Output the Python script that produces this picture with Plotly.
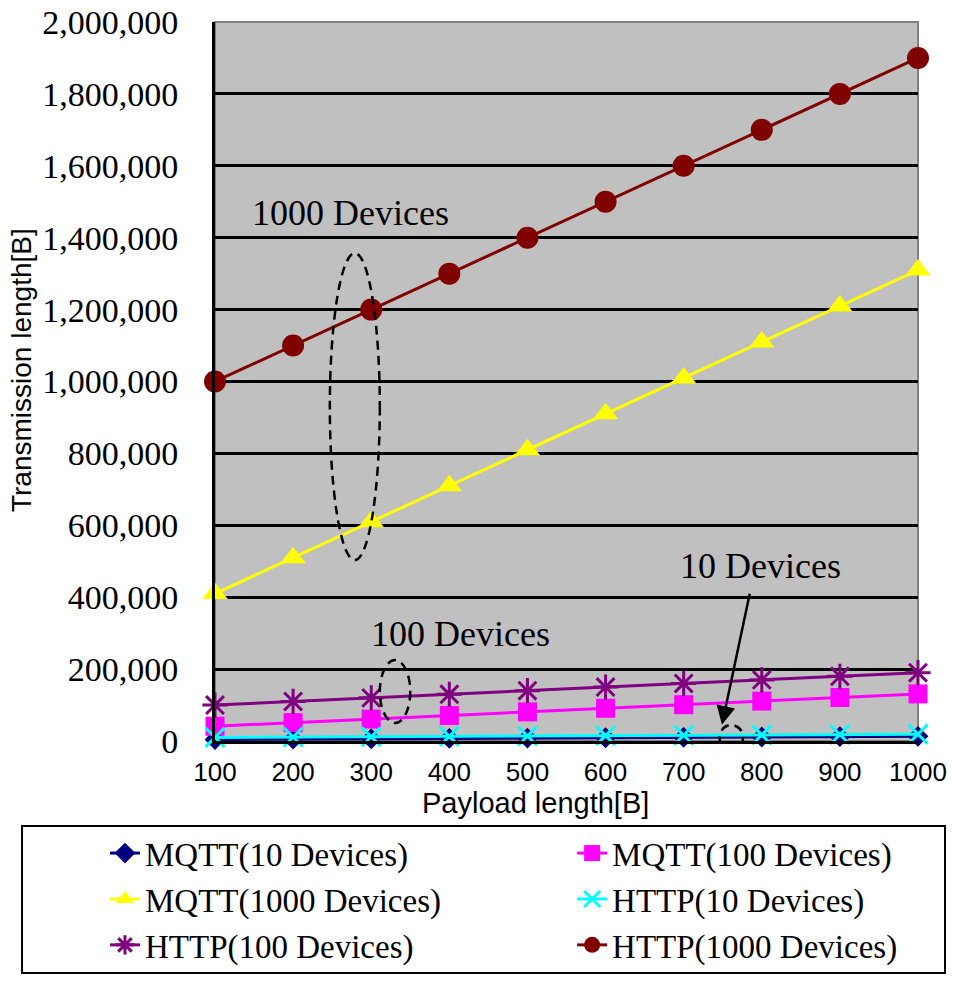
import plotly.graph_objects as go

payload = [100, 200, 300, 400, 500, 600, 700, 800, 900, 1000]
mqtt_10 = [4100, 5100, 6100, 7100, 8100, 9100, 10100, 11100, 12100, 13100]
mqtt_100 = [41000, 51000, 61000, 71000, 81000, 91000, 101000, 111000, 121000, 131000]
mqtt_1000 = [410000, 510000, 610000, 710000, 810000, 910000, 1010000, 1110000, 1210000, 1310000]
http_10 = [10000, 11000, 12000, 13000, 14000, 15000, 16000, 17000, 18000, 19000]
http_100 = [100000, 110000, 120000, 130000, 140000, 150000, 160000, 170000, 180000, 190000]
http_1000 = [1000000, 1100000, 1200000, 1300000, 1400000, 1500000, 1600000, 1700000, 1800000, 1900000]

# name, values, colour, symbol, size, outline width, legend column
series = [
    ("MQTT(10 Devices)", mqtt_10, "#000080", "diamond", 16, 0, "legend"),
    ("MQTT(100 Devices)", mqtt_100, "#FF00FF", "square", 19, 0, "legend2"),
    ("MQTT(1000 Devices)", mqtt_1000, "#FFFF00", "triangle-up", 22, 0, "legend"),
    ("HTTP(10 Devices)", http_10, "#00FFFF", "x-thin-open", 19, 3, "legend2"),
    ("HTTP(100 Devices)", http_100, "#800080", "asterisk-open", 21, 3, "legend"),
    ("HTTP(1000 Devices)", http_1000, "#800000", "circle", 22, 0, "legend2"),
]

fig = go.Figure()
for name, ys, color, sym, size, lw, leg in series:
    mk = dict(symbol=sym, size=size, color=color)
    if lw:
        mk["line"] = dict(color=color, width=lw)
    fig.add_trace(go.Scatter(x=payload, y=ys, name=name, mode="lines+markers",
                             line=dict(color=color, width=3), marker=mk,
                             cliponaxis=False, legend=leg))

serif = "Liberation Serif"
sans = "Liberation Sans"

# dashed ellipses
for x0, x1, y0, y1 in [(247, 311, 503000, 1357000), (311, 350, 50000, 225000), (746, 776, -25000, 44500)]:
    fig.add_shape(type="circle", xref="x", yref="y", x0=x0, x1=x1, y0=y0, y1=y1,
                  line=dict(color="black", width=2.5, dash="9px,6px"))

fig.add_annotation(x=273, y=1468000, text="1000 Devices", showarrow=False,
                   font=dict(family=serif, size=36, color="black"))
fig.add_annotation(x=414, y=297000, text="100 Devices", showarrow=False,
                   font=dict(family=serif, size=36, color="black"))
fig.add_annotation(x=798, y=487000, text="10 Devices", showarrow=False,
                   font=dict(family=serif, size=36, color="black"))
fig.add_annotation(x=749, y=45000, ax=785, ay=414000, axref="x", ayref="y",
                   text="", showarrow=True, arrowhead=2, arrowsize=1.5, arrowwidth=2.5,
                   arrowcolor="black")
# axis titles
fig.add_annotation(x=0.4566, y=-0.0862, xref="paper", yref="paper", text="Payload length[B]",
                   xanchor="center", yanchor="middle",
                   showarrow=False, font=dict(family=sans, size=29, color="black"))
fig.add_annotation(x=-0.2745, y=0.516, xref="paper", yref="paper", text="Transmission length[B]",
                   xanchor="center", yanchor="middle", textangle=-90,
                   showarrow=False, font=dict(family=sans, size=28, color="black"))

legfont = dict(family=serif, size=33, color="black")
fig.update_layout(
    width=953, height=982,
    margin=dict(l=215, r=35, t=22, b=241, autoexpand=False),
    paper_bgcolor="white", plot_bgcolor="#C0C0C0",
    showlegend=True,
    legend=dict(x=-0.1565, xanchor="left", y=-0.117, yanchor="top",
                bgcolor="rgba(0,0,0,0)", borderwidth=0, font=legfont),
    legend2=dict(x=0.508, xanchor="left", y=-0.117, yanchor="top",
                 bgcolor="rgba(0,0,0,0)", borderwidth=0, font=legfont),
    xaxis=dict(range=[100, 1000], tickvals=payload, showgrid=False, zeroline=False,
               automargin=False, ticklabeloverflow="allow",
               showline=True, linecolor="black", linewidth=3, mirror=False,
               ticks="outside", ticklen=6, tickcolor="rgba(0,0,0,0)",
               tickfont=dict(family=sans, size=26, color="black")),
    yaxis=dict(range=[0, 2000000], dtick=200000, tickformat=",", showgrid=True,
               gridcolor="black", gridwidth=3, zeroline=False, automargin=False,
               ticklabeloverflow="allow",
               showline=True, linecolor="black", linewidth=3,
               ticks="outside", ticklen=27, tickcolor="rgba(0,0,0,0)",
               tickfont=dict(family=serif, size=34, color="black")),
)
# plot border (gray, top/right)
fig.add_shape(type="rect", xref="paper", yref="paper", x0=0, x1=1, y0=0, y1=1,
              line=dict(color="#808080", width=2), layer="below")
# legend frame
fig.add_shape(type="rect", xref="paper", yref="paper", x0=-0.2745, x1=1.0384,
              y0=-0.3227, y1=-0.1182, line=dict(color="black", width=2),
              fillcolor="rgba(0,0,0,0)")

fig.write_html("out.html", config={"displayModeBar": False},
               post_script="document.body.style.margin='0';")
